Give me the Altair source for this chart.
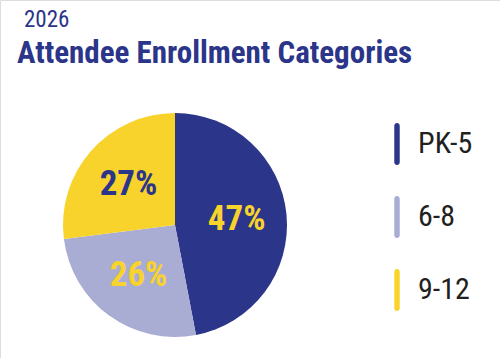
import altair as alt
import pandas as pd

categories = ["PK-5", "6-8", "9-12"]
shares = [47, 26, 27]
labels = ["47%", "26%", "27%"]
slice_colors = ["#2b3589", "#a9add4", "#f8d32c"]
label_colors = ["#f8d32c", "#f8d32c", "#2b3589"]
year_text = "2026"
title_text = "Attendee Enrollment Categories"

FONT = "Roboto Condensed, Open Sans Condensed, DejaVu Sans Condensed, sans-serif"
NAVY = "#2b3589"

df = pd.DataFrame({
    "category": categories,
    "share": shares,
    "label": labels,
    "idx": list(range(len(categories))),
})

base = alt.Chart(df).encode(
    theta=alt.Theta("share:Q", stack=True),
    order=alt.Order("idx:Q"),
)

cx, cy = 175, 225

pie = base.mark_arc(outerRadius=112).encode(
    x=alt.value(cx),
    y=alt.value(cy),
    color=alt.Color(
        "category:N",
        scale=alt.Scale(domain=categories, range=slice_colors),
        sort=categories,
        legend=alt.Legend(
            title=None,
            orient="none",
            legendX=376,
            legendY=123,
            symbolType="M-0.13,-0.87 A0.13,0.13 0 0 1 0.13,-0.87 L0.13,0.87 A0.13,0.13 0 0 1 -0.13,0.87 Z",
            symbolSize=1764,
            symbolStrokeWidth=0,
            symbolOpacity=1,
            labelFont=FONT,
            labelFontSize=30,
            labelColor="#231f20",
            labelOffset=0,
            rowPadding=31,
        ),
    ),
)

pie_labels = base.mark_text(
    radius=62, font=FONT, fontSize=35, fontWeight="bold", align="center", baseline="middle"
).encode(
    x=alt.value(cx),
    y=alt.value(cy),
    text="label:N",
    color=alt.Color(
        "category:N",
        scale=alt.Scale(domain=categories, range=label_colors),
        legend=None,
    ),
)

year = alt.Chart(pd.DataFrame({"t": [year_text]})).mark_text(
    font=FONT, fontSize=23, color=NAVY, align="left", baseline="alphabetic"
).encode(text="t:N", x=alt.value(24), y=alt.value(27))

title = alt.Chart(pd.DataFrame({"t": [title_text]})).mark_text(
    font=FONT, fontSize=31, fontWeight="bold", color=NAVY, align="left", baseline="alphabetic"
).encode(text="t:N", x=alt.value(17), y=alt.value(63))

chart = alt.layer(pie, pie_labels, year, title).resolve_scale(
    color="independent"
).properties(
    width=500,
    height=358,
    autosize=alt.AutoSizeParams(type="none"),
    padding=0,
).configure_view(stroke=None).configure(background="white")

chart.save("out.html", embed_options={"renderer": "svg", "actions": False})
